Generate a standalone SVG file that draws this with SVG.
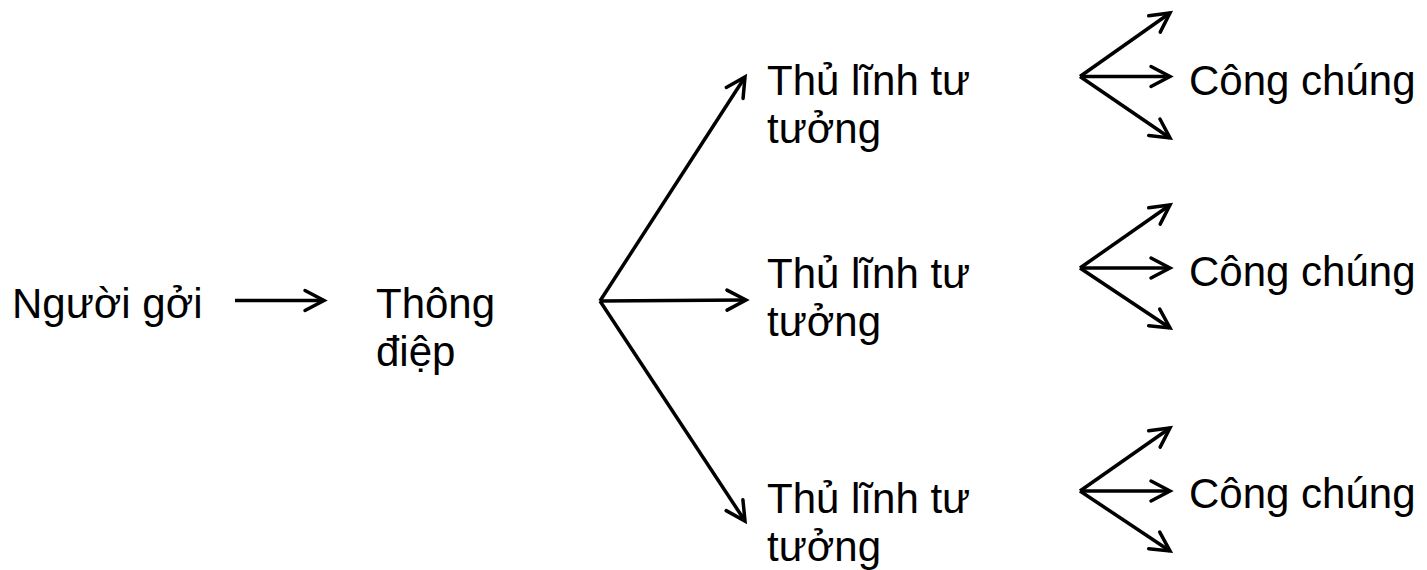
<svg xmlns="http://www.w3.org/2000/svg" width="1427" height="570" viewBox="0 0 1427 570">
<style>
.t{font-family:"Liberation Sans",Arial,sans-serif;font-size:42px;fill:#000}
.c{stroke:#000;stroke-width:3.5;fill:none;marker-end:url(#ah)}
</style>
<defs>
<marker id="ah" markerUnits="userSpaceOnUse" markerWidth="34" markerHeight="34" viewBox="-24 -17 34 34" refX="0" refY="0" orient="auto">
<path d="M-19,-10 L0,0 L-19,10" fill="none" stroke="#000" stroke-width="3.5" stroke-linecap="round" stroke-linejoin="miter"/>
</marker>
</defs>
<rect width="1427" height="570" fill="#fff"/>
<g id="sender"><text class="t" x="12" y="318">Người gởi</text></g>
<g id="message"><text class="t" x="376" y="318">Thông</text><text class="t" x="376" y="366">điệp</text></g>
<g id="leader1"><text class="t" x="767" y="95">Thủ lĩnh tư</text><text class="t" x="767" y="143">tưởng</text></g>
<g id="leader2"><text class="t" x="767" y="288">Thủ lĩnh tư</text><text class="t" x="767" y="336">tưởng</text></g>
<g id="leader3"><text class="t" x="767" y="513">Thủ lĩnh tư</text><text class="t" x="767" y="561">tưởng</text></g>
<g id="public1"><text class="t" x="1189" y="95">Công chúng</text></g>
<g id="public2"><text class="t" x="1189" y="286">Công chúng</text></g>
<g id="public3"><text class="t" x="1189" y="508">Công chúng</text></g>
<g id="connectors">
<path class="c" d="M235,300.5 L324,300.5"/>
<path class="c" d="M600,301 L745,77"/>
<path class="c" d="M600,301 L746,300"/>
<path class="c" d="M600,301 L745,521"/>
<path class="c" d="M1080,76.5 L1170,13"/>
<path class="c" d="M1080,76.5 L1170,76.5"/>
<path class="c" d="M1080,76.5 L1170,138"/>
<path class="c" d="M1080,268 L1170,205"/>
<path class="c" d="M1080,268 L1170,268"/>
<path class="c" d="M1080,268 L1170,328"/>
<path class="c" d="M1080,491 L1170,428"/>
<path class="c" d="M1080,491 L1170,491"/>
<path class="c" d="M1080,491 L1170,551"/>
</g>
</svg>
